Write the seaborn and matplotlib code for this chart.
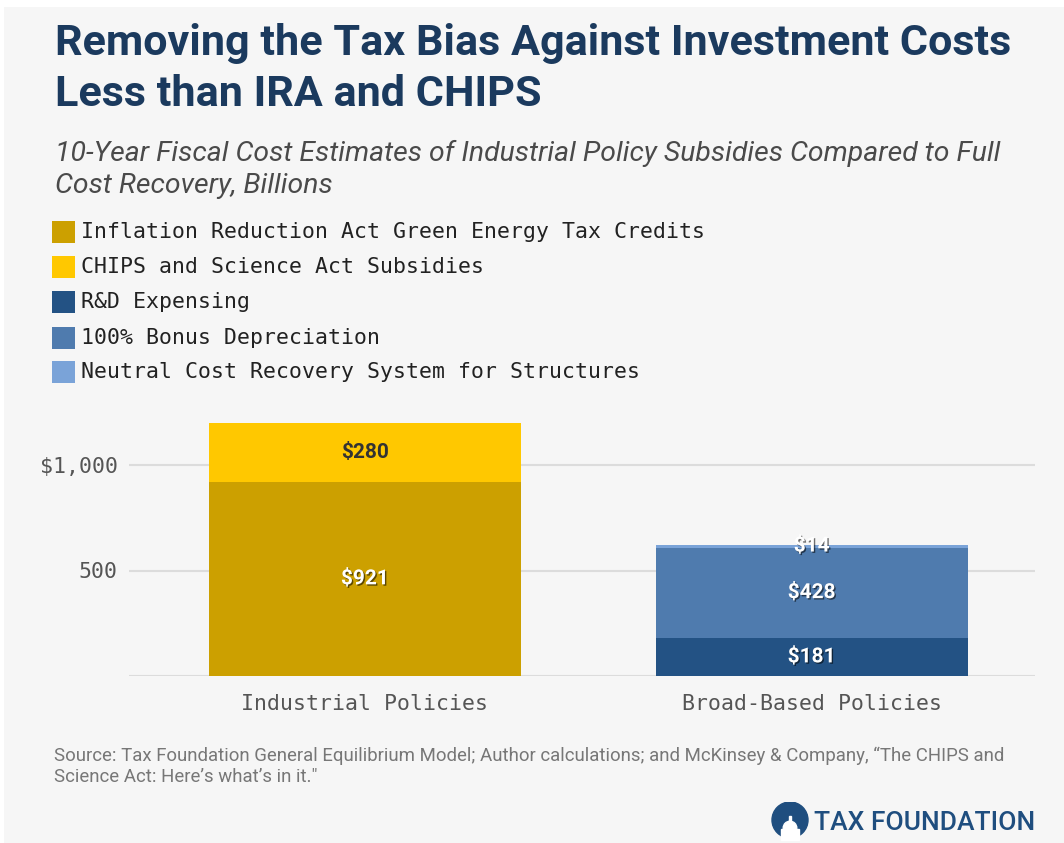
import matplotlib
matplotlib.use("Agg")
import matplotlib.pyplot as plt
import matplotlib.patheffects as pe
from matplotlib.patches import Rectangle, Circle
import seaborn as sns
import pandas as pd

# ---- data (billions of dollars, 10-year cost) ----
categories = ["Industrial Policies", "Broad-Based Policies"]
series_names = [
    "Inflation Reduction Act Green Energy Tax Credits",
    "CHIPS and Science Act Subsidies",
    "R&D Expensing",
    "100% Bonus Depreciation",
    "Neutral Cost Recovery System for Structures",
]
series_category = ["Industrial Policies", "Industrial Policies",
                   "Broad-Based Policies", "Broad-Based Policies", "Broad-Based Policies"]
series_values = [921, 280, 181, 428, 14]
series_colors = ["#cca000", "#ffc800", "#235284", "#4f7bae", "#7aa3d8"]
label_colors = ["white", "#333333", "white", "white", "white"]
y_ticks = [0, 500, 1000]
y_tick_labels = ["", "500", "$1,000"]

BG = "#f6f6f6"
NAVY = "#1b3a5e"
GREY_TXT = "#555555"
MONO = "DejaVu Sans Mono"

sns.set_theme(style="white")
plt.rcParams["font.family"] = ["Roboto", "DejaVu Sans"]

fig = plt.figure(figsize=(10.64, 8.43), dpi=100, facecolor=BG)

# white page margin at top and left
fig.patches.append(Rectangle((0, 1 - 7 / 843), 1, 7 / 843, transform=fig.transFigure,
                             facecolor="white", edgecolor="none", zorder=-1))
fig.patches.append(Rectangle((0, 0), 4 / 1064, 1, transform=fig.transFigure,
                             facecolor="white", edgecolor="none", zorder=-1))

ax = fig.add_axes([129 / 1064, 1 - 676 / 843, (1035 - 129) / 1064, (676 - 412.25) / 843])
ax.set_facecolor(BG)

df = pd.DataFrame({"category": series_category, "series": series_names,
                   "value": series_values})

# stacked bars: each segment sits on the running total of its category
running = {c: 0 for c in categories}
for name, cat, val, col, lcol in zip(series_names, series_category, series_values,
                                     series_colors, label_colors):
    sub = df[df["series"] == name]
    sns.barplot(data=sub, x="category", y="value", order=categories, color=col,
                width=0.698, bottom=running[cat], saturation=1, ax=ax,
                edgecolor="none", linewidth=0, zorder=3)
    cont = ax.containers[-1]
    effects = ([pe.withSimplePatchShadow(offset=(1, -1), shadow_rgbFace="black", alpha=0.55)]
               if lcol == "white" else [])
    ax.bar_label(cont, labels=[f"${val}"], label_type="center", color=lcol,
                 fontsize=15, fontweight="bold", family=["Roboto", "DejaVu Sans"],
                 path_effects=effects, zorder=5)
    running[cat] += val

ax.set_xlim(-0.528, 1.5)
ax.set_ylim(0, 1250)
ax.set_yticks(y_ticks)
ax.set_yticklabels(y_tick_labels)
ax.yaxis.grid(True, color="#dcdcdc", linewidth=1.5, zorder=0)
ax.set_axisbelow(True)
ax.tick_params(axis="both", length=0, labelsize=15.5, labelcolor=GREY_TXT)
ax.tick_params(axis="y", pad=8)
ax.tick_params(axis="x", pad=13)
for lab in ax.get_xticklabels() + ax.get_yticklabels():
    lab.set_family(MONO)
ax.set_xlabel("")
ax.set_ylabel("")
for s in ax.spines.values():
    s.set_visible(False)

# title and subtitle
fig.text(55 / 1064, 1 - 43 / 843, "Removing the Tax Bias Against Investment Costs",
         fontsize=31.1, fontweight="bold", color=NAVY, va="center", ha="left")
fig.text(55 / 1064, 1 - 95 / 843, "Less than IRA and CHIPS",
         fontsize=31.1, fontweight="bold", color=NAVY, va="center", ha="left")
fig.text(55 / 1064, 1 - 153 / 843,
         "10-Year Fiscal Cost Estimates of Industrial Policy Subsidies Compared to Full",
         fontsize=20.4, fontstyle="italic", color="#4a4a4a",
         va="center", ha="left")
fig.text(55 / 1064, 1 - 186 / 843, "Cost Recovery, Billions",
         fontsize=20.4, fontstyle="italic", color="#4a4a4a",
         va="center", ha="left")

# legend
legend_y = [232, 267, 302, 338, 372]
for name, col, yy in zip(series_names, series_colors, legend_y):
    fig.patches.append(Rectangle((52 / 1064, 1 - (yy + 11) / 843), 23 / 1064, 22 / 843,
                                 transform=fig.transFigure, facecolor=col,
                                 edgecolor="none"))
    fig.text(81 / 1064, 1 - yy / 843, name, family=MONO, fontsize=15.5,
             color="#222222", va="center", ha="left")

# source note
fig.text(54 / 1064, 1 - 756 / 843,
         "Source: Tax Foundation General Equilibrium Model; Author calculations; and McKinsey & Company, \u201cThe CHIPS and",
         fontsize=13.4, color="#777777", va="center", ha="left")
fig.text(54 / 1064, 1 - 777 / 843, "Science Act: Here\u2019s what\u2019s in it.\"",
         fontsize=13.4, color="#777777", va="center", ha="left")

# logo
logo_ax = fig.add_axes([770 / 1064, 1 - 842 / 843, 40 / 1064, 40 / 843])
logo_ax.set_xlim(0, 1)
logo_ax.set_ylim(0, 1)
logo_ax.set_aspect("equal")
logo_ax.axis("off")
logo_ax.add_patch(Circle((0.5, 0.55), 0.45, color="#1f4e7f"))
logo_ax.add_patch(Circle((0.5, 0.35), 0.17, color="white"))
logo_ax.add_patch(Rectangle((0.28, 0.05), 0.44, 0.28, color="white"))
logo_ax.add_patch(Rectangle((0.47, 0.5), 0.06, 0.15, color="white"))
fig.text(1035 / 1064, 1 - 823 / 843, "TAX FOUNDATION", fontsize=19, fontweight="medium",
         color="#1f4e7f", va="center", ha="right")

fig.savefig("out.png", dpi=100, facecolor=BG)
